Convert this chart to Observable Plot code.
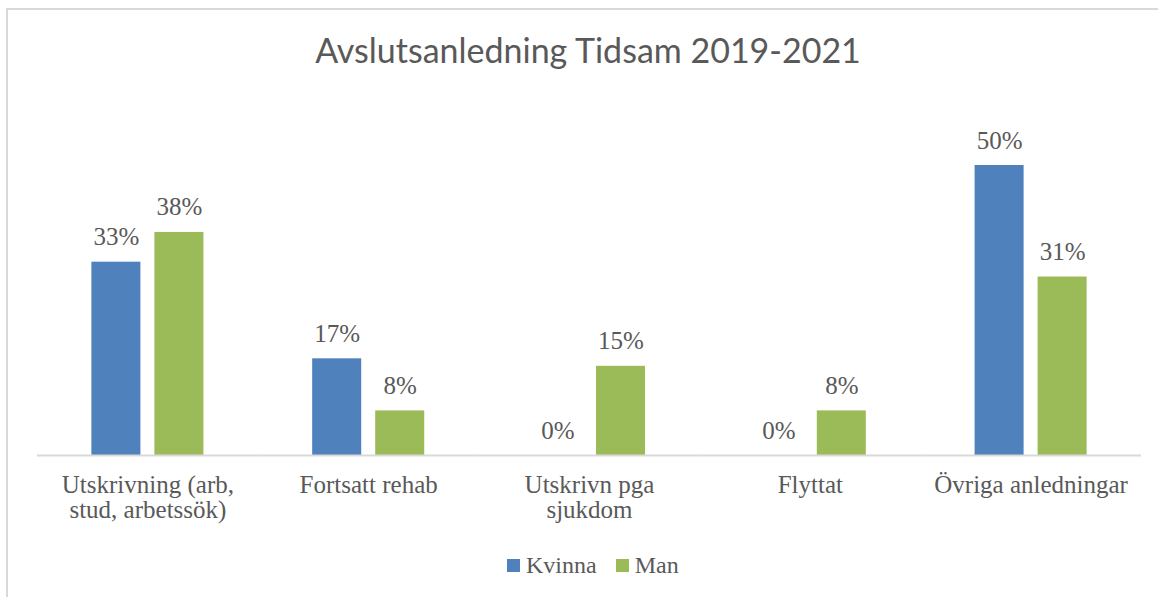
<!DOCTYPE html>
<html>
<head>
<meta charset="utf-8">
<script src="https://cdn.jsdelivr.net/npm/d3@7"></script>
<script src="https://cdn.jsdelivr.net/npm/@observablehq/plot@0.6"></script>
<style>
  html, body { margin: 0; padding: 0; background: #fff; }
  #wrap { position: relative; width: 1158px; height: 597px; overflow: hidden; background: #fff; }
  #frame { position: absolute; left: 6px; top: 8px; right: -4px; bottom: -4px; border-left: 2px solid #d9d9d9; border-top: 2px solid #d9d9d9; }
  #title { position: absolute; left: 588px; top: 33px; transform: translateX(-50%); white-space: nowrap;
           font-family: Lato, "Open Sans", sans-serif; font-weight: 400; font-size: 34px; color: #595959; line-height: 1; }
  #chart { position: absolute; left: 0; top: 0; }
  #legend { position: absolute; left: 507px; top: 551px; display: flex; align-items: center; gap: 19px;
            font-family: "Liberation Serif", serif; font-size: 24px; color: #595959; line-height: 28px; }
  .item { display: flex; align-items: center; gap: 6px; }
  .sw { width: 13px; height: 13px; display: inline-block; }
</style>
</head>
<body>
<div id="wrap">
  <div id="frame"></div>
  <div id="chart"></div>
  <div id="title"></div>
  <div id="legend"></div>
</div>
<script>
const titleText = "Avslutsanledning Tidsam 2019-2021";
const categories = ["Utskrivning (arb, stud, arbetssök)", "Fortsatt rehab", "Utskrivn pga sjukdom", "Flyttat", "Övriga anledningar"];
const categoryLabels = ["Utskrivning (arb,\nstud, arbetssök)", "Fortsatt rehab", "Utskrivn pga\nsjukdom", "Flyttat", "Övriga anledningar"];
const series = ["Kvinna", "Man"];
const colors = ["#4f81bd", "#9bbb59"];
const kvinna = [33.33, 16.67, 0, 0, 50.0];
const man = [38.46, 7.69, 15.38, 7.69, 30.77];

const data = [];
categories.forEach((c, i) => {
  data.push({cat: c, series: "Kvinna", value: kvinna[i]});
  data.push({cat: c, series: "Man", value: man[i]});
});

document.getElementById("title").textContent = titleText;

const chart = Plot.plot({
  width: 1158,
  height: 597,
  marginTop: 107,
  marginBottom: 142,
  marginLeft: 37,
  marginRight: 17,
  style: {fontFamily: "'Liberation Serif', serif", fontSize: "25px", color: "#595959", background: "transparent"},
  fx: {domain: categories, padding: 0, round: false, label: null, tickSize: 0, tickPadding: 20,
       tickFormat: d => categoryLabels[categories.indexOf(d)]},
  x: {domain: series, paddingInner: 0.222, paddingOuter: 0.863, round: false, axis: null},
  y: {domain: [0, 60], axis: null},
  color: {domain: series, range: colors},
  marks: [
    Plot.barY(data, {fx: "cat", x: "series", y: "value", fill: "series"}),
    Plot.ruleY([0], {stroke: "#d9d9d9", strokeWidth: 2}),
    Plot.text(data, {fx: "cat", x: "series", y: "value", text: d => Math.round(d.value) + "%",
                     dy: -25, fill: "#595959", fontSize: 25})
  ]
});
document.getElementById("chart").appendChild(chart);

const legend = document.getElementById("legend");
series.forEach((s, i) => {
  const item = document.createElement("div");
  item.className = "item";
  const sw = document.createElement("span");
  sw.className = "sw";
  sw.style.background = colors[i];
  const t = document.createElement("span");
  t.textContent = s;
  item.appendChild(sw);
  item.appendChild(t);
  legend.appendChild(item);
});
</script>
</body>
</html>
